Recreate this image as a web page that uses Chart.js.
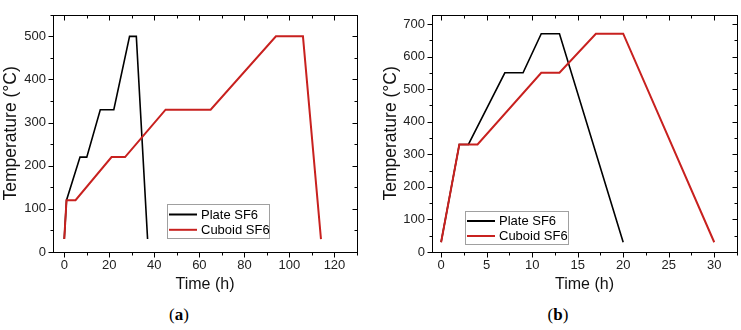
<!DOCTYPE html>
<html>
<head>
<meta charset="utf-8">
<script src="https://cdn.jsdelivr.net/npm/chart.js@4.4.1/dist/chart.umd.min.js"></script>
<style>
    body { margin: 0; background: #fff; width: 741px; height: 330px; position: relative; overflow: hidden; }
    canvas { position: absolute; top: 0; }
    #chartA { left: 0; }
    #chartB { left: 370px; }
    .caption { position: absolute; top: 305px; font-family: "Liberation Serif", serif; font-size: 17px; transform: translateX(-50%); color: #000; }
</style>
</head>
<body>
<canvas id="chartA" width="370" height="300"></canvas>
<canvas id="chartB" width="371" height="300"></canvas>
<div class="caption" style="left:179px">(<b>a</b>)</div>
<div class="caption" style="left:558px">(<b>b</b>)</div>
<script>
// panel (a)
const plateTimeA = [0, 1, 7, 10, 16, 22, 29, 32, 37];
const plateTempA = [30, 120, 220, 220, 330, 330, 500, 500, 30];
const cuboidTimeA = [0, 1, 5, 21, 27, 45, 65, 94, 106, 114];
const cuboidTempA = [30, 120, 120, 220, 220, 330, 330, 500, 500, 30];
const xTicksA = [0, 20, 40, 60, 80, 100, 120];
const yTicksA = [0, 100, 200, 300, 400, 500];

// panel (b)
const plateTimeB = [0, 2, 3, 7, 9, 11, 13, 20];
const plateTempB = [30, 330, 330, 550, 550, 670, 670, 30];
const cuboidTimeB = [0, 2, 4, 11, 13, 17, 20, 30];
const cuboidTempB = [30, 330, 330, 550, 550, 670, 670, 30];
const xTicksB = [0, 5, 10, 15, 20, 25, 30];
const yTicksB = [0, 100, 200, 300, 400, 500, 600, 700];

const seriesNames = ['Plate SF6', 'Cuboid SF6'];
const FONT = '"Liberation Sans", Arial, sans-serif';

function toPoints(xs, ys) {
    return xs.map((x, i) => ({ x: x, y: ys[i] }));
}

function minorsOf(majors, lo, hi) {
    const step = majors[1] - majors[0];
    const out = [];
    for (let v = majors[0] - step / 2; v <= hi + 1e-9; v += step) {
        if (v >= lo - 1e-9) out.push(v);
    }
    return out;
}

// box round the plot plus tick marks on all four sides
const frame = {
    id: 'frame',
    afterDatasetsDraw(chart, args, o) {
        const { ctx, chartArea: a } = chart;
        const sx = chart.scales.x, sy = chart.scales.y;
        const L = Math.round(a.left) + 0.5, R = Math.round(a.right) + 0.5;
        const T = Math.round(a.top) + 0.5, B = Math.round(a.bottom) + 0.5;
        ctx.save();
        ctx.strokeStyle = '#000';
        ctx.lineWidth = 1;
        ctx.strokeRect(L, T, R - L, B - T);
        const mark = (x1, y1, x2, y2) => { ctx.beginPath(); ctx.moveTo(x1, y1); ctx.lineTo(x2, y2); ctx.stroke(); };
        const doX = (vals, len) => vals.forEach(v => {
            const p = Math.round(sx.getPixelForValue(v)) + 0.5;
            mark(p, B, p, B + len);
            mark(p, T, p, T + len);
        });
        const doY = (vals, len) => vals.forEach(v => {
            const p = Math.round(sy.getPixelForValue(v)) + 0.5;
            mark(L, p, L - len, p);
            mark(R, p, R - len, p);
        });
        doX(o.xMajor, 5);
        doX(minorsOf(o.xMajor, sx.min, sx.max), 3);
        doY(o.yMajor, 5);
        doY(minorsOf(o.yMajor, sy.min, sy.max), 3);
        ctx.restore();
    }
};

// legend box placed inside the plot
const boxLegend = {
    id: 'boxLegend',
    afterDraw(chart, args, o) {
        const ctx = chart.ctx;
        ctx.save();
        ctx.fillStyle = '#fff';
        ctx.fillRect(o.x, o.y, o.w, o.h);
        ctx.strokeStyle = '#a0a0a0';
        ctx.lineWidth = 1;
        ctx.strokeRect(o.x + 0.5, o.y + 0.5, o.w, o.h);
        ctx.font = '13px ' + FONT;
        ctx.textBaseline = 'middle';
        const items = [...chart.data.datasets].sort((p, q) => seriesNames.indexOf(p.label) - seriesNames.indexOf(q.label));
        items.forEach((ds, i) => {
            const yy = o.y + o.rowTop + i * o.rowGap;
            ctx.strokeStyle = ds.borderColor;
            ctx.lineWidth = 2;
            ctx.beginPath();
            ctx.moveTo(o.x + 2, yy);
            ctx.lineTo(o.x + 30, yy);
            ctx.stroke();
            ctx.fillStyle = '#000';
            ctx.fillText(ds.label, o.x + 34, yy + 0.5);
        });
        ctx.restore();
    }
};

function makeChart(id, plate, cuboid, cfg) {
    const ctx = document.getElementById(id).getContext('2d');
    return new Chart(ctx, {
        type: 'line',
        data: {
            // cuboid first so it is drawn on top of the plate curve
            datasets: [{
                label: seriesNames[1],
                data: cuboid,
                borderColor: '#c8211f',
                borderWidth: 2,
                pointRadius: 0
            }, {
                label: seriesNames[0],
                data: plate,
                borderColor: '#000000',
                borderWidth: 1.6,
                pointRadius: 0
            }]
        },
        options: {
            responsive: false,
            animation: false,
            devicePixelRatio: 1,
            layout: { padding: { top: 7, right: cfg.padRight, left: 0, bottom: 0 } },
            plugins: {
                legend: { display: false },
                tooltip: { enabled: false },
                frame: { xMajor: cfg.xTicks, yMajor: cfg.yTicks },
                boxLegend: cfg.legend
            },
            scales: {
                x: {
                    type: 'linear',
                    min: cfg.xMin,
                    max: cfg.xMax,
                    grid: { display: false, drawTicks: false },
                    border: { display: false },
                    afterBuildTicks: s => { s.ticks = cfg.xTicks.map(v => ({ value: v })); },
                    afterFit: s => { s.height = 48; },
                    ticks: { color: '#222', font: { family: FONT, size: 13 }, padding: 6, maxRotation: 0 },
                    title: { display: true, text: 'Time (h)', color: '#111', font: { family: FONT, size: 16 }, padding: { top: 0, bottom: 6 } }
                },
                y: {
                    type: 'linear',
                    min: 0,
                    max: cfg.yMax,
                    grid: { display: false, drawTicks: false },
                    border: { display: false },
                    afterBuildTicks: s => { s.ticks = cfg.yTicks.map(v => ({ value: v })); },
                    afterFit: s => { s.width = cfg.yWidth; },
                    ticks: { color: '#222', font: { family: FONT, size: 13 }, padding: 7 },
                    title: { display: true, text: 'Temperature (°C)', color: '#111', font: { family: FONT, size: 17.5 }, padding: { top: cfg.yTitlePad, bottom: 0 } }
                }
            }
        },
        plugins: [frame, boxLegend]
    });
}

makeChart('chartA', toPoints(plateTimeA, plateTempA), toPoints(cuboidTimeA, cuboidTempA), {
    xMin: -5, xMax: 130, yMax: 550, xTicks: xTicksA, yTicks: yTicksA,
    padRight: 13, yWidth: 53, yTitlePad: 0.5,
    legend: { x: 167, y: 204, w: 102, h: 34, rowTop: 10.5, rowGap: 15.3 }
});

makeChart('chartB', toPoints(plateTimeB, plateTempB), toPoints(cuboidTimeB, cuboidTempB), {
    xMin: -1, xMax: 32.5, yMax: 728, xTicks: xTicksB, yTicks: yTicksB,
    padRight: 4, yWidth: 62, yTitlePad: 11,
    legend: { x: 95, y: 211, w: 103, h: 33, rowTop: 10, rowGap: 15 }
});
</script>
</body>
</html>
